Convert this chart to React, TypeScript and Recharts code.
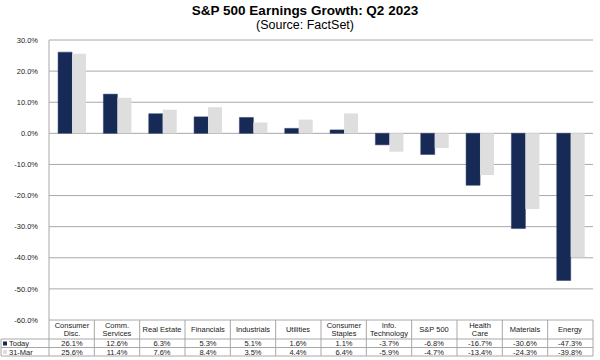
import { BarChart, Bar, XAxis, YAxis, CartesianGrid } from 'recharts';

const categories = [
  'Consumer\nDisc.',
  'Comm.\nServices',
  'Real Estate',
  'Financials',
  'Industrials',
  'Utilities',
  'Consumer\nStaples',
  'Info.\nTechnology',
  'S&P 500',
  'Health\nCare',
  'Materials',
  'Energy',
];
const today = [26.1, 12.6, 6.3, 5.3, 5.1, 1.6, 1.1, -3.7, -6.8, -16.7, -30.6, -47.3];
const mar31 = [25.6, 11.4, 7.6, 8.4, 3.5, 4.4, 6.4, -5.9, -4.7, -13.4, -24.3, -39.8];
const yTicks = [30, 20, 10, 0, -10, -20, -30, -40, -50, -60];

const data = categories.map((c, i) => ({ name: c, today: today[i], mar31: mar31[i] }));

const W = 600;
const H = 360;
const LEFT = 49;
const RIGHT = 7;
const TOP = 40;
const TABLE_TOP = 320;
const BAND = (W - LEFT - RIGHT) / categories.length;
const ROW1 = 339;
const ROW2 = 347.5;
const ROW3 = 356;
const NAVY = '#172a56';
const LIGHT = '#dedede';
const LINE = '#a8a8a8';
const TXT = '#1a1a1a';
const FONT = '"Liberation Sans", Arial, sans-serif';

const fmt = (v: number) => v.toFixed(1) + '%';

function Cell({ x, y, children, anchor = 'middle' }: any) {
  return (
    <text x={Math.round(x)} y={Math.round(y)} textAnchor={anchor} fill={TXT} fontSize={7.5} fontFamily={FONT}>
      {children}
    </text>
  );
}

function TableTick(props: any) {
  const { x, payload } = props;
  const i = categories.indexOf(payload.value);
  const l = x - BAND / 2;
  const r = x + BAND / 2;
  const lines = String(payload.value).split('\n');
  return (
    <g>
      <line x1={l} y1={TABLE_TOP} x2={l} y2={ROW3} stroke={LINE} />
      {i === categories.length - 1 && <line x1={r} y1={TABLE_TOP} x2={r} y2={ROW3} stroke={LINE} />}
      <line x1={l} y1={ROW1} x2={r} y2={ROW1} stroke={LINE} />
      <line x1={l} y1={ROW2} x2={r} y2={ROW2} stroke={LINE} />
      <line x1={l} y1={ROW3} x2={r} y2={ROW3} stroke={LINE} />
      {lines.map((t, k) => (
        <Cell key={k} x={x} y={lines.length === 1 ? 332 : 328 + k * 8}>
          {t}
        </Cell>
      ))}
      <Cell x={x} y={ROW1 + 7}>{fmt(today[i])}</Cell>
      <Cell x={x} y={ROW2 + 7}>{fmt(mar31[i])}</Cell>
      {i === 0 && (
        <g>
          <line x1={1} y1={ROW1} x2={l} y2={ROW1} stroke={LINE} />
          <line x1={1} y1={ROW2} x2={l} y2={ROW2} stroke={LINE} />
          <line x1={1} y1={ROW3} x2={l} y2={ROW3} stroke={LINE} />
          <line x1={1} y1={ROW1} x2={1} y2={ROW3} stroke={LINE} />
          <rect x={3} y={ROW1 + 2.5} width={4} height={4} fill={NAVY} />
          <Cell x={9} y={ROW1 + 7} anchor="start">Today</Cell>
          <rect x={3} y={ROW2 + 2.5} width={4} height={4} fill={LIGHT} />
          <Cell x={9} y={ROW2 + 7} anchor="start">31-Mar</Cell>
        </g>
      )}
    </g>
  );
}

export default function App() {
  return (
    <div style={{ position: 'absolute', left: 0, top: 0, width: W, height: H, background: '#fff', fontFamily: FONT }}>
      <div style={{ position: 'absolute', left: 0, top: 3, width: W + 10, textAlign: 'center', color: '#000' }}>
        <div style={{ fontSize: 13.5, fontWeight: 'bold', lineHeight: '15px' }}>S&amp;P 500 Earnings Growth: Q2 2023</div>
        <div style={{ fontSize: 12.5, lineHeight: '15px' }}>(Source: FactSet)</div>
      </div>
      <BarChart
        width={W}
        height={H}
        data={data}
        margin={{ top: TOP, right: RIGHT, left: 0, bottom: 0 }}
        barCategoryGap="20%"
        barGap={0}
      >
        <CartesianGrid vertical={false} stroke={LINE} />
        <YAxis
          width={LEFT}
          domain={[-60, 30]}
          ticks={yTicks}
          interval={0}
          tickFormatter={fmt}
          tickLine={false}
          axisLine={{ stroke: LINE }}
          tick={{ fontSize: 7.5, fill: '#222', fontFamily: FONT }}
          tickMargin={5}
        />
        <XAxis
          dataKey="name"
          height={H - TABLE_TOP}
          interval={0}
          axisLine={false}
          tickLine={false}
          tick={<TableTick />}
        />
        <Bar dataKey="today" fill={NAVY} stroke="#2c3f6e" strokeWidth={0.5} isAnimationActive={false} />
        <Bar dataKey="mar31" fill={LIGHT} isAnimationActive={false} />
      </BarChart>
    </div>
  );
}
